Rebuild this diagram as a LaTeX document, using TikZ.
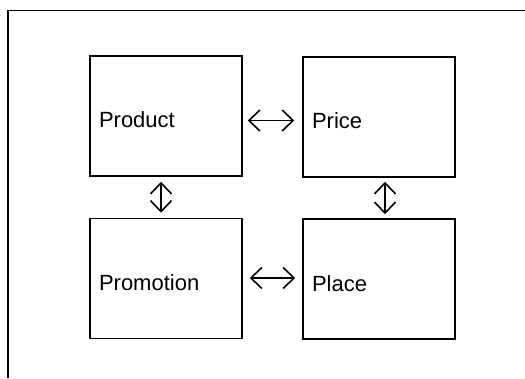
\documentclass[tikz,border=0pt]{standalone}
\usepackage{fontspec}
\setmainfont{Liberation Sans}
\usetikzlibrary{arrows.meta}

\tikzset{
  box/.style={draw, line width=1.5pt, minimum width=152pt, minimum height=120pt,
    text width=134pt, align=left, inner xsep=8.5pt, text height=24pt, text depth=0pt,
    font=\fontsize{22}{26}\selectfont},
  link/.style={line width=1.6pt, {Straight Barb[length=11pt,width=21pt]}-{Straight Barb[length=11pt,width=21pt]}}
}

\begin{document}
\begin{tikzpicture}[x=1pt,y=1pt]
\useasboundingbox (0,0) rectangle (525,378);

\draw[line width=1.4pt] (8,0)--(8,367.5)--(525,367.5);

\node [box] (product) at (166,262) {Product};
\node [box] (price) at (379,261) {Price};
\node [box] (promotion) at (166,99.5) {Promotion};
\node [box] (place) at (379,99) {Place};

%horizontal
\draw [link, shorten <=5pt, shorten >=8pt] ([yshift=-4.5pt]product.east)--([yshift=-3.5pt]price.west);
\draw [link, shorten <=7pt, shorten >=7pt] ([yshift=0.5pt]promotion.east)--([yshift=1pt]place.west);

%vertical
\draw [link, shorten <=5pt, shorten >=5pt] ([xshift=-5pt]product.south)--([xshift=-5pt]promotion.north);
\draw [link, shorten <=4pt, shorten >=4pt] ([xshift=6pt]price.south)--([xshift=6pt]place.north);

\end{tikzpicture}
\end{document}
